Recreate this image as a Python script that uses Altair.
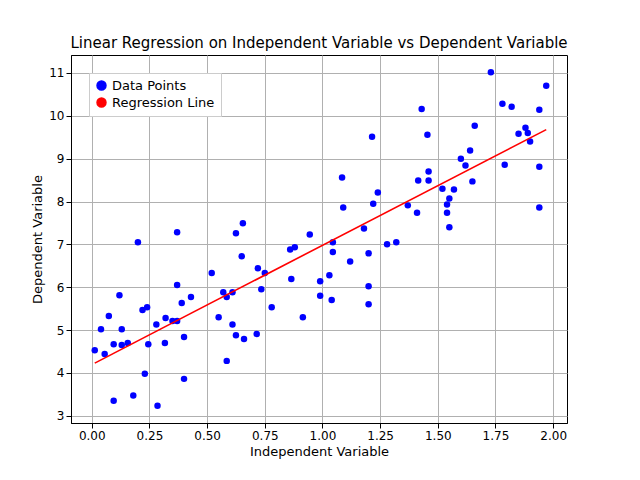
import pandas as pd
import altair as alt

x_vals = [0.013, 0.04, 0.056, 0.074, 0.095, 0.095, 0.12, 0.13, 0.13, 0.156,
          0.18, 0.20, 0.22, 0.24, 0.23, 0.245, 0.28, 0.285, 0.317, 0.32,
          0.35, 0.37, 0.37, 0.37, 0.39, 0.40, 0.40, 0.43, 0.52, 0.55,
          0.57, 0.585, 0.585, 0.61, 0.61, 0.625, 0.625, 0.65, 0.655, 0.66,
          0.72, 0.715, 0.735, 0.75, 0.78, 0.86, 0.865, 0.88, 0.915, 0.945,
          0.99, 0.99, 1.03, 1.04, 1.045, 1.045, 1.085, 1.09, 1.12, 1.18,
          1.20, 1.20, 1.20, 1.215, 1.22, 1.24, 1.28, 1.32, 1.37, 1.41,
          1.415, 1.43, 1.455, 1.46, 1.46, 1.52, 1.54, 1.54, 1.55, 1.55,
          1.57, 1.60, 1.62, 1.64, 1.65, 1.66, 1.73, 1.78, 1.79, 1.82,
          1.85, 1.88, 1.89, 1.90, 1.94, 1.94, 1.94, 1.97]
y_vals = [4.53, 5.02, 4.44, 5.33, 4.67, 3.35, 5.81, 5.02, 4.65, 4.70,
          3.47, 7.05, 5.47, 5.53, 3.98, 4.67, 5.13, 3.23, 4.70, 5.28,
          5.21, 5.21, 6.05, 7.28, 5.63, 3.86, 4.84, 5.77, 6.33, 5.30,
          5.88, 5.77, 4.28, 5.88, 5.13, 7.26, 4.88, 6.72, 7.49, 4.79,
          6.44, 4.91, 5.95, 6.33, 5.53, 6.88, 6.19, 6.93, 5.30, 7.23,
          6.14, 5.80, 6.28, 5.70, 7.05, 6.82, 8.56, 7.86, 6.60, 7.37,
          6.02, 6.79, 5.60, 9.51, 7.95, 8.21, 7.00, 7.05, 7.91, 7.74,
          8.49, 10.16, 9.56, 8.70, 8.49, 8.30, 7.74, 7.93, 8.07, 7.40,
          8.28, 9.00, 8.84, 9.19, 8.47, 9.77, 11.02, 10.28, 8.86, 10.21,
          9.58, 9.72, 9.60, 9.40, 7.86, 8.81, 10.14, 10.70]

df = pd.DataFrame({"x": x_vals, "y": y_vals})

color_scale = alt.Scale(domain=["Data Points", "Regression Line"], range=["blue", "red"])
x_enc = alt.X("x:Q", title="Independent Variable",
              scale=alt.Scale(domain=[-0.09, 2.06], nice=False),
              axis=alt.Axis(values=[0, 0.25, 0.5, 0.75, 1.0, 1.25, 1.5, 1.75, 2.0], format=".2f"))
y_enc = alt.Y("y:Q", title="Dependent Variable",
              scale=alt.Scale(domain=[2.83, 11.42], nice=False, zero=False),
              axis=alt.Axis(values=list(range(3, 12)), format="d"))

points = alt.Chart(df).transform_calculate(series='"Data Points"').mark_circle(
    size=42, opacity=1
).encode(
    x=x_enc, y=y_enc,
    color=alt.Color("series:N", scale=color_scale, title=None,
                    legend=alt.Legend(orient="top-left", fillColor="white", strokeColor="#ccc",
                                      padding=6, labelFontSize=13, symbolSize=80))
)

line = alt.Chart(df).transform_regression("x", "y").transform_calculate(
    series='"Regression Line"'
).mark_line(strokeWidth=1.6).encode(
    x="x:Q", y="y:Q",
    color=alt.Color("series:N", scale=color_scale)
)

chart = alt.layer(points, line).properties(
    width=496, height=368,
    padding={"left": 23, "top": 28, "right": 5, "bottom": 5},
    title=alt.TitleParams("Linear Regression on Independent Variable vs Dependent Variable",
                          fontSize=15, fontWeight="normal", font="DejaVu Sans")
).configure_axis(
    grid=True, gridColor="#b0b0b0", domainColor="black", tickColor="black",
    labelFont="DejaVu Sans", titleFont="DejaVu Sans", labelFontSize=12, titleFontSize=13,
    titleFontWeight="normal", labelColor="black", titleColor="black"
).configure_legend(labelFont="DejaVu Sans").configure_view(stroke="black")

chart.save("out.html", embed_options={"renderer": "svg", "actions": False})
